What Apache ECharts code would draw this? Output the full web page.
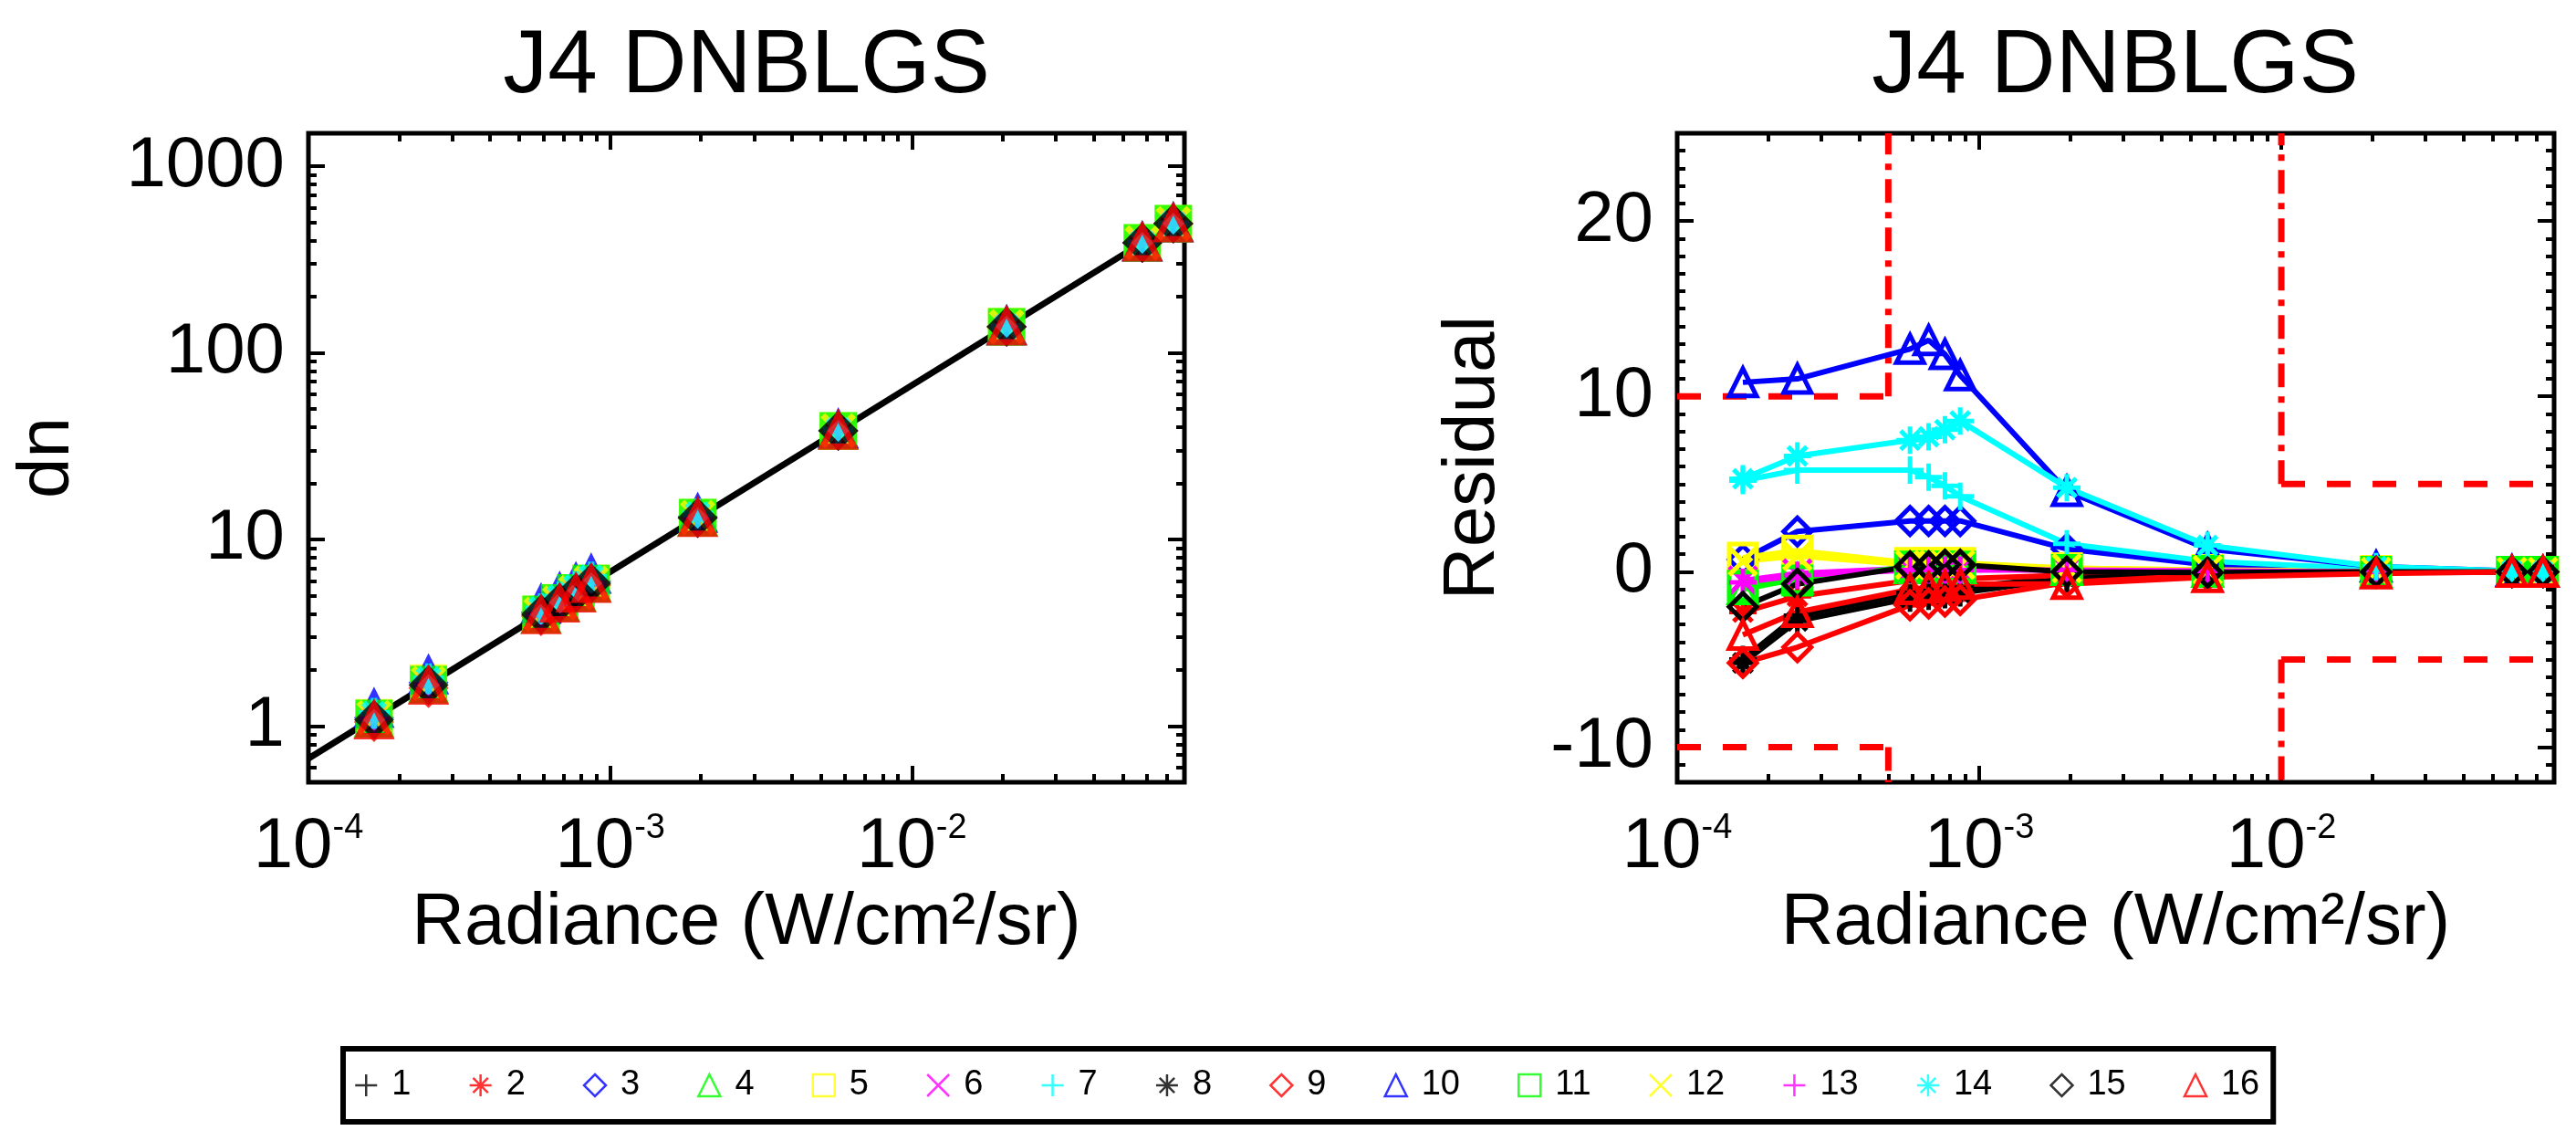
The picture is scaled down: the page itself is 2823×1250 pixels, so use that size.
<!DOCTYPE html>
<html>
<head>
<meta charset="utf-8">
<title>J4 DNBLGS</title>
<script src="https://cdn.jsdelivr.net/npm/echarts@6/dist/echarts.min.js"></script>
<style>
  html, body { margin: 0; padding: 0; background: #fff; }
  #main { width: 2823px; height: 1250px; }
</style>
</head>
<body>
<div id="main"></div>
<script>
// radiance levels (W/cm2/sr)
const radiance = [1.65e-4, 2.5e-4, 5.9e-4, 6.8e-4, 7.7e-4, 8.65e-4, 1.95e-3, 5.7e-3, 2.06e-2, 5.8e-2, 7.35e-2];

const detectors = ['1', '2', '3', '4', '5', '6', '7', '8', '9', '10', '11', '12', '13', '14', '15', '16'];

// dn per detector
const dn1 = [1.05, 1.63, 3.91, 4.51, 5.11, 5.74, 13.03, 38.15, 138.0, 388.6, 492.5];
const dn2 = [1.08, 1.65, 3.93, 4.53, 5.14, 5.77, 13.04, 38.15, 138.0, 388.6, 492.5];
const dn3 = [1.11, 1.71, 4.07, 4.69, 5.31, 5.96, 13.24, 38.34, 138.1, 388.6, 492.5];
const dn4 = [1.09, 1.67, 3.96, 4.57, 5.17, 5.81, 13.08, 38.19, 138.0, 388.6, 492.5];
const dn5 = [1.11, 1.70, 3.97, 4.58, 5.18, 5.83, 13.10, 38.23, 138.1, 388.6, 492.5];
const dn6 = [1.10, 1.67, 3.96, 4.57, 5.17, 5.81, 13.08, 38.19, 138.0, 388.6, 492.5];
const dn7 = [1.16, 1.77, 4.18, 4.80, 5.41, 6.05, 13.28, 38.42, 138.2, 388.7, 492.5];
const dn8 = [1.05, 1.63, 3.89, 4.49, 5.09, 5.73, 13.02, 38.15, 138.0, 388.6, 492.5];
const dn9 = [1.05, 1.60, 3.88, 4.47, 5.07, 5.70, 12.99, 38.11, 137.9, 388.6, 492.5];
const dn10 = [1.23, 1.86, 4.46, 5.16, 5.80, 6.45, 13.67, 38.69, 138.4, 388.8, 492.5];
const dn11 = [1.10, 1.67, 3.97, 4.57, 5.17, 5.81, 13.08, 38.21, 138.0, 388.6, 492.5];
const dn12 = [1.11, 1.69, 3.97, 4.57, 5.18, 5.82, 13.10, 38.23, 138.0, 388.6, 492.5];
const dn13 = [1.10, 1.67, 3.96, 4.56, 5.16, 5.80, 13.08, 38.21, 138.0, 388.6, 492.5];
const dn14 = [1.17, 1.79, 4.25, 4.91, 5.58, 6.29, 13.70, 38.76, 138.4, 388.8, 492.5];
const dn15 = [1.08, 1.66, 3.97, 4.57, 5.18, 5.82, 13.07, 38.17, 138.0, 388.6, 492.5];
const dn16 = [1.07, 1.64, 3.91, 4.52, 5.12, 5.76, 12.98, 38.08, 137.9, 388.6, 492.5];

// residual (%) per detector
const res1 = [-5.0, -2.5, -1.2, -1.1, -1.0, -0.9, -0.3, -0.1, 0, 0, 0];
const res2 = [-2.3, -1.4, -0.5, -0.5, -0.4, -0.4, -0.2, -0.1, 0, 0, 0];
const res3 = [0.7, 2.3, 2.9, 2.9, 2.9, 2.9, 1.3, 0.4, 0.1, 0, 0];
const res4 = [-1.0, -0.4, 0.2, 0.2, 0.2, 0.2, 0.1, 0, 0, 0, 0];
const res5 = [0.8, 1.2, 0.5, 0.5, 0.5, 0.5, 0.2, 0.1, 0.05, 0, 0];
const res6 = [-0.5, -0.1, 0.2, 0.2, 0.2, 0.2, 0.1, 0, 0, 0, 0];
const res7 = [5.2, 5.8, 5.8, 5.4, 4.9, 4.3, 1.6, 0.6, 0.15, 0.02, 0];
const res8 = [-5.2, -2.8, -1.5, -1.4, -1.3, -1.2, -0.4, -0.1, 0, 0, 0];
const res9 = [-5.2, -4.3, -1.9, -1.8, -1.7, -1.6, -0.6, -0.2, -0.05, 0, 0];
const res10 = [10.8, 11.0, 12.7, 13.2, 12.4, 11.2, 4.6, 1.3, 0.3, 0.05, 0];
const res11 = [-0.8, -0.5, 0.3, 0.3, 0.3, 0.3, 0.1, 0.05, 0, 0, 0];
const res12 = [0.6, 0.9, 0.4, 0.4, 0.4, 0.4, 0.2, 0.1, 0, 0, 0];
const res13 = [-0.6, -0.2, 0.1, 0.1, 0.1, 0.1, 0.1, 0.05, 0, 0, 0];
const res14 = [5.3, 6.6, 7.5, 7.7, 8.1, 8.6, 4.8, 1.5, 0.3, 0.05, 0];
const res15 = [-2.0, -0.7, 0.3, 0.3, 0.4, 0.4, 0, -0.05, 0, 0, 0];
const res16 = [-3.6, -2.3, -1.0, -0.9, -0.8, -0.7, -0.7, -0.3, -0.1, 0, 0];

// fitted line on the dn plot
const fitX = [1e-4, 0.08];
const fitDn = [0.67, 536];

// axis ranges and tick labels
const xRange = [1e-4, 0.08];
const dnRange = [0.5, 1500];
const resRange = [-12, 25];
const xTicks = [1e-4, 1e-3, 1e-2];
const dnTicks = [1, 10, 100, 1000];
const resTicks = [-10, 0, 10, 20];

// residual limits: +/-10 below lowEdge, +/-5 above highEdge
const lowEdge = 5e-4;
const highEdge = 1e-2;
const lowLimit = 10;
const highLimit = 5;

const dnAll = [dn1, dn2, dn3, dn4, dn5, dn6, dn7, dn8, dn9, dn10, dn11, dn12, dn13, dn14, dn15, dn16];
const resAll = [res1, res2, res3, res4, res5, res6, res7, res8, res9, res10, res11, res12, res13, res14, res15, res16];

const FONT = 'Liberation Sans';
const symPlus = 'path://M5,0L5,10M0,5L10,5';
const symStar = 'path://M5,0L5,10M0,5L10,5M1.6,1.6L8.4,8.4M8.4,1.6L1.6,8.4';
const symCross = 'path://M0,0L10,10M10,0L0,10';
const idlSymbols = [symPlus, symStar, 'diamond', 'triangle', 'rect', symCross];
const idlColors = ['#000000', '#ff0000', '#0000ff', '#00ff00', '#ffff00', '#ff00ff', '#00ffff'];
const colors = detectors.map((d, i) => idlColors[i % 7]);
const symbols = detectors.map((d, i) => idlSymbols[i % 6]);

function logMinors(lo, hi) {
    const out = [];
    for (let e = -5; e <= 4; e++) {
        for (let m = 2; m <= 9; m++) {
            const v = m * Math.pow(10, e);
            if (v > lo && v < hi) out.push(v);
        }
    }
    return out;
}
function linMinors(lo, hi) {
    const out = [];
    for (let v = Math.ceil(lo); v <= hi; v++) {
        if (v % 10 !== 0) out.push(v);
    }
    return out;
}

function tickAxis(type, position, gridIndex, range, ticks, len, label, extra) {
    return Object.assign({
        type: type,
        position: position,
        gridIndex: gridIndex,
        min: range[0],
        max: range[1],
        logBase: 10,
        axisLine: { show: false, onZero: false },
        splitLine: { show: false },
        axisTick: { show: true, inside: true, length: len, customValues: ticks, lineStyle: { color: '#000', width: 4 } },
        axisLabel: label ? Object.assign({ customValues: ticks, color: '#000', fontFamily: FONT, fontSize: 78 }, label) : { show: false }
    }, extra || {});
}

const nameStyle = { color: '#000', fontFamily: FONT, fontSize: 80 };
const xLabel = {
    margin: 32,
    formatter: v => '{b|10}{s|' + Math.round(Math.log10(v)) + '}',
    rich: {
        b: { fontSize: 78, lineHeight: 78, fontFamily: FONT, color: '#000' },
        s: { fontSize: 38, lineHeight: 38, fontFamily: FONT, color: '#000', verticalAlign: 'top' }
    }
};
const xName = { name: 'Radiance (W/cm²/sr)', nameLocation: 'middle', nameGap: 115, nameTextStyle: nameStyle };

const xMinor = logMinors(xRange[0], xRange[1]);
const dnMinor = logMinors(dnRange[0], dnRange[1]);
const resMinor = linMinors(resRange[0], resRange[1]);

const xAxes = [];
const yAxes = [];
[0, 1].forEach(g => {
    xAxes.push(tickAxis('log', 'bottom', g, xRange, xTicks, 18, xLabel, xName));
    xAxes.push(tickAxis('log', 'bottom', g, xRange, xMinor, 9));
    xAxes.push(tickAxis('log', 'top', g, xRange, xTicks, 18));
    xAxes.push(tickAxis('log', 'top', g, xRange, xMinor, 9));
});
yAxes.push(tickAxis('log', 'left', 0, dnRange, dnTicks, 18,
    { margin: 26, formatter: v => String(Math.round(v)) },
    { name: 'dn', nameLocation: 'middle', nameRotate: 90, nameGap: 245, nameTextStyle: nameStyle }));
yAxes.push(tickAxis('log', 'left', 0, dnRange, dnMinor, 9));
yAxes.push(tickAxis('log', 'right', 0, dnRange, dnTicks, 18));
yAxes.push(tickAxis('log', 'right', 0, dnRange, dnMinor, 9));
yAxes.push(tickAxis('value', 'left', 1, resRange, resTicks, 18,
    { margin: 26, formatter: v => String(v) },
    { name: 'Residual', nameLocation: 'middle', nameRotate: 90, nameGap: 183, nameTextStyle: nameStyle }));
yAxes.push(tickAxis('value', 'left', 1, resRange, resMinor, 9));
yAxes.push(tickAxis('value', 'right', 1, resRange, resTicks, 18));
yAxes.push(tickAxis('value', 'right', 1, resRange, resMinor, 9));

const series = [];

// fit line
series.push({
    type: 'line', xAxisIndex: 0, yAxisIndex: 0, silent: true, symbol: 'none', z: 2,
    data: fitX.map((x, i) => [x, fitDn[i]]),
    lineStyle: { color: '#000', width: 7 }
});

// dn markers
detectors.forEach((name, i) => {
    series.push({
        name: name, type: 'scatter', xAxisIndex: 0, yAxisIndex: 0, z: 3,
        data: radiance.map((x, j) => [x, dnAll[i][j]]),
        symbol: symbols[i], symbolSize: 34, symbolKeepAspect: true,
        itemStyle: { color: 'transparent', borderColor: colors[i], borderWidth: 7 },
        emphasis: { disabled: true }
    });
});

// residual limits
const dashed = [26, 24];
const dashDot = [26, 10, 7, 10];
function limitLine(points, dash) {
    return {
        type: 'line', xAxisIndex: 4, yAxisIndex: 4, silent: true, symbol: 'none', z: 1,
        data: points,
        lineStyle: { color: '#ff0000', width: 7, type: dash }
    };
}
[1, -1].forEach(sign => {
    const edgeY = sign > 0 ? resRange[1] : resRange[0];
    series.push(limitLine([[xRange[0], sign * lowLimit], [lowEdge, sign * lowLimit]], dashed));
    series.push(limitLine([[lowEdge, sign * lowLimit], [lowEdge, edgeY]], dashDot));
    series.push(limitLine([[highEdge, sign * highLimit], [xRange[1], sign * highLimit]], dashed));
    series.push(limitLine([[highEdge, sign * highLimit], [highEdge, edgeY]], dashDot));
});

// residual lines
detectors.forEach((name, i) => {
    series.push({
        name: name, type: 'line', xAxisIndex: 4, yAxisIndex: 4, z: 3,
        data: radiance.map((x, j) => [x, resAll[i][j]]),
        symbol: symbols[i], symbolSize: 30, symbolKeepAspect: true, showSymbol: true,
        lineStyle: { color: colors[i], width: 6 },
        itemStyle: { color: 'transparent', borderColor: colors[i], borderWidth: 5 },
        emphasis: { disabled: true }
    });
});

const titleStyle = {
    text: 'J4 DNBLGS', font: 'normal 98px "Liberation Sans"', fill: '#000',
    align: 'center', verticalAlign: 'middle', textAlign: 'center', textVerticalAlign: 'middle'
};

const chart = echarts.init(document.getElementById('main'));
chart.setOption({
    animation: false,
    backgroundColor: '#fff',
    graphic: [
        { type: 'text', x: 818, y: 74, style: titleStyle },
        { type: 'text', x: 2318, y: 74, style: titleStyle }
    ],
    grid: [
        { left: 338, top: 146, width: 960, height: 711, show: true, borderColor: '#000', borderWidth: 5, backgroundColor: 'transparent' },
        { left: 1838, top: 146, width: 961, height: 711, show: true, borderColor: '#000', borderWidth: 5, backgroundColor: 'transparent' }
    ],
    legend: {
        left: 376, top: 1149,
        orient: 'horizontal',
        padding: [21, 15, 21, 12],
        borderColor: '#000', borderWidth: 6,
        itemGap: 63, itemWidth: 24, itemHeight: 24,
        symbolKeepAspect: true,
        selectedMode: false,
        textStyle: { color: '#000', fontFamily: FONT, fontSize: 38, padding: [0, 0, 0, 11] },
        data: detectors.map((name, i) => ({
            name: name,
            icon: symbols[i],
            itemStyle: { color: 'transparent', borderColor: colors[i], borderWidth: 2.5 }
        }))
    },
    xAxis: xAxes,
    yAxis: yAxes,
    series: series
});
</script>
</body>
</html>
